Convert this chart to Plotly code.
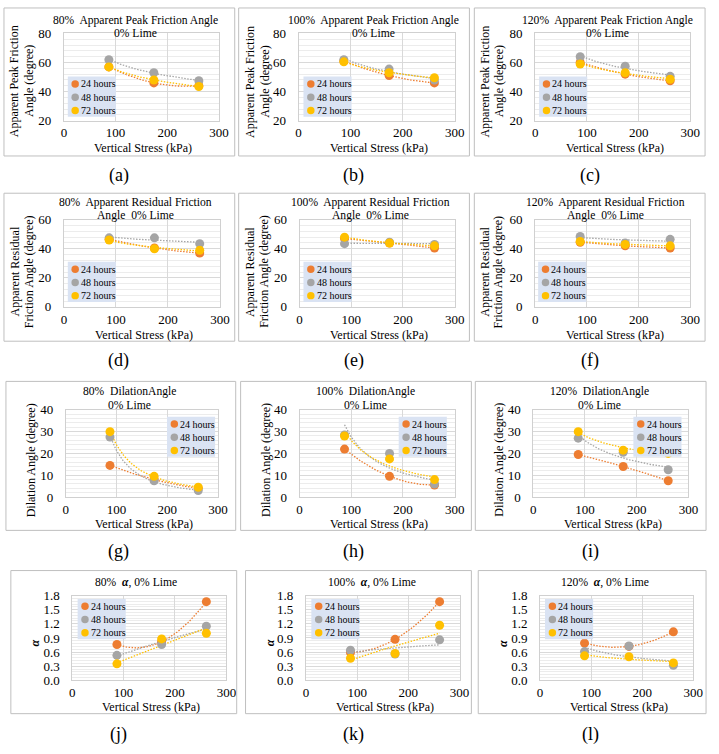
import numpy as np
import plotly.graph_objects as go

W, H = 719, 754
FONT = "Liberation Serif"

# ---------------- data ----------------
stress_kpa = [87, 174, 261]
series_names = ["24 hours", "48 hours", "72 hours"]
series_colors = ["#ED7D31", "#A5A5A5", "#FFC000"]
trend_kinds = ["poly2", "power", "power"]
x_ticks = [0, 100, 200, 300]

# each list: [24 h, 48 h, 72 h]
peak_80 = [[57, 46, 44], [62, 53, 47.5], [57, 48, 43.5]]
peak_100 = [[61, 51, 46], [62, 55.5, 48], [60.5, 53, 49.5]]
peak_120 = [[60, 52, 47.5], [64, 57.5, 50.5], [59, 53, 48.5]]
resid_80 = [[46.5, 40.5, 37], [47.5, 47.5, 43.5], [46, 40, 39]]
resid_100 = [[47, 44, 40.5], [43.5, 44.5, 43], [48, 44, 42]]
resid_120 = [[44.5, 42, 40.5], [48.5, 44, 46.5], [45, 43, 42]]
dil_80 = [[14.5, 8, 4], [27.5, 7.5, 3], [30, 9.5, 4.5]]
dil_100 = [[22, 9.5, 5.5], [28.5, 20, 6], [28, 17.5, 8]]
dil_120 = [[19.5, 14, 7.5], [27, 20.5, 12.5], [30, 21.5, 20]]
alpha_80 = [[0.76, 0.82, 1.67], [0.53, 0.76, 1.15], [0.35, 0.88, 1.0]]
alpha_100 = [[0.59, 0.87, 1.67], [0.64, 0.56, 0.86], [0.47, 0.57, 1.17]]
alpha_120 = [[0.79, 0.72, 1.03], [0.61, 0.73, 0.32], [0.52, 0.50, 0.37]]

A = "<b><i>α</i></b>"

# ---------------- layout geometry (pixels) ----------------
rows = [
    dict(ytop=27, ybot=116, by=(1, 152), ty=[14, 27.5], ytc=76, xty=144, capy=172, ly=71),
    dict(ytop=217, ybot=306, by=(190, 341), ty=[199, 212.7], ytc=270, xty=335, capy=361, ly=260),
    dict(ytop=411, ybot=500, by=(382, 534), ty=[392.7, 407], ytc=462, xty=527.7, capy=556, ly=418),
    dict(ytop=600.5, ybot=687, by=(575, 721), ty=[586.7], ytc=649, xty=714.5, capy=742.5, ly=604),
]

panels = [
    dict(row=0, data=peak_80, yr=(20, 80), dt=20, fmt="",
         title=["80%  Apparent Peak Friction Angle", "0% Lime"],
         ytitle=["Apparent Peak Friction", "Angle (degree)"], cap="(a)",
         px=(62, 220), bx=(1, 236), tcx=135, ytx=[12, 27], lx=66, capx=118),
    dict(row=0, data=peak_100, yr=(20, 80), dt=20, fmt="",
         title=["100%  Apparent Peak Friction Angle", "0% Lime"],
         ytitle=["Apparent Peak Friction", "Angle (degree)"], cap="(b)",
         px=(301, 460), bx=(240, 475), tcx=377, ytx=[252, 267], lx=306, capx=357),
    dict(row=0, data=peak_120, yr=(20, 80), dt=20, fmt="",
         title=["120%  Apparent Peak Friction Angle", "0% Lime"],
         ytitle=["Apparent Peak Friction", "Angle (degree)"], cap="(c)",
         px=(542, 700), bx=(480, 715), tcx=616, ytx=[491, 506], lx=546, capx=598),
    dict(row=1, data=resid_80, yr=(0, 60), dt=20, fmt="",
         title=["80%  Apparent Residual Friction", "Angle  0% Lime"],
         ytitle=["Apparent Residual", "Friction Angle (degree)"], cap="(d)",
         px=(62, 221), bx=(1, 236), tcx=135, ytx=[12, 26], lx=66, capx=118),
    dict(row=1, data=resid_100, yr=(0, 60), dt=20, fmt="",
         title=["100%  Apparent Residual Friction", "Angle  0% Lime"],
         ytitle=["Apparent Residual", "Friction Angle (degree)"], cap="(e)",
         px=(302, 460), bx=(240, 475), tcx=374, ytx=[251, 265], lx=306, capx=357),
    dict(row=1, data=resid_120, yr=(0, 60), dt=20, fmt="",
         title=["120%  Apparent Residual Friction", "Angle  0% Lime"],
         ytitle=["Apparent Residual", "Friction Angle (degree)"], cap="(f)",
         px=(542, 700), bx=(480, 715), tcx=614, ytx=[490, 504], lx=545, capx=598),
    dict(row=2, data=dil_80, yr=(0, 40), dt=10, fmt="",
         title=["80%  DilationAngle", "0% Lime"],
         ytitle=["Dilation Angle (degree)"], cap="(g)",
         px=(64, 219), bx=(3, 237), tcx=129, ytx=[28], lx=167, capx=118),
    dict(row=2, data=dil_100, yr=(0, 40), dt=10, fmt="",
         title=["100%  DilationAngle", "0% Lime"],
         ytitle=["Dilation Angle (degree)"], cap="(h)",
         px=(302, 460), bx=(242, 477), tcx=369.5, ytx=[268], lx=403, capx=357),
    dict(row=2, data=dil_120, yr=(0, 40), dt=10, fmt="",
         title=["120%  DilationAngle", "0% Lime"],
         ytitle=["Dilation Angle (degree)"], cap="(i)",
         px=(540, 698), bx=(481, 716), tcx=607, ytx=[505], lx=642, capx=598),
    dict(row=3, data=alpha_80, yr=(0, 1.8), dt=0.3, fmt=".1f",
         title=["80%  " + A + ", 0% Lime"],
         ytitle=[A], cap="(j)",
         px=(70.5, 227.5), bx=(8, 238), tcx=135, ytx=[33], lx=76, capx=118),
    dict(row=3, data=alpha_100, yr=(0, 1.8), dt=0.3, fmt=".1f",
         title=["100%  " + A + ", 0% Lime"],
         ytitle=[A], cap="(k)",
         px=(308.5, 465), bx=(247, 477), tcx=376, ytx=[272], lx=314, capx=357),
    dict(row=3, data=alpha_120, yr=(0, 1.8), dt=0.3, fmt=".1f",
         title=["120%  " + A + ", 0% Lime"],
         ytitle=[A], cap="(l)",
         px=(547, 703), bx=(484, 716), tcx=613.5, ytx=[509], lx=552, capx=598),
]

GRID = "#d9d9d9"
MINOR = "#ececec"
FRAME = "#d0d0d0"
BOX = "#bfbfbf"
LEG_BG = "#dae3f3"


def pxx(x):
    return x / W


def pyy(y):
    return 1 - y / H


def trend(xs, ys, kind, n=80):
    x = np.asarray(xs, float)
    y = np.asarray(ys, float)
    xx = np.linspace(x.min(), x.max(), n)
    if kind == "poly2":
        c = np.polyfit(x, y, 2)
        yy = np.polyval(c, xx)
    else:  # power
        b, a = np.polyfit(np.log(x), np.log(y), 1)
        yy = np.exp(a) * xx ** b
    return xx, yy


fig = go.Figure()
axes = {}
shapes = []
annos = []

for k, p in enumerate(panels):
    n = k + 1
    xa = "x" if n == 1 else f"x{n}"
    ya = "y" if n == 1 else f"y{n}"
    xkey = "xaxis" if n == 1 else f"xaxis{n}"
    ykey = "yaxis" if n == 1 else f"yaxis{n}"
    r = rows[p["row"]]
    x0, x1 = p["px"]

    axes[xkey] = dict(
        domain=[pxx(x0), pxx(x1)], range=[0, 300], tickvals=x_ticks,
        anchor=ya, showgrid=True, gridcolor=GRID, gridwidth=1,
        showline=True, linecolor=FRAME, linewidth=1, mirror=True,
        zeroline=False, ticks="", ticklabelstandoff=0,
        tickfont=dict(family=FONT, size=13, color="#000"), fixedrange=True,
    )
    axes[ykey] = dict(
        domain=[pyy(r["ybot"]), pyy(r["ytop"])], range=list(p["yr"]),
        tick0=p["yr"][0], dtick=p["dt"], tickformat=p["fmt"],
        anchor=xa, showgrid=True, gridcolor=GRID, gridwidth=1,
        showline=True, linecolor=FRAME, linewidth=1, mirror=True,
        zeroline=False, ticks="", ticklabelstandoff=9,
        minor=dict(dtick=p["dt"] / 5, tick0=p["yr"][0], showgrid=True,
                   gridcolor=MINOR, gridwidth=1, ticks=""),
        tickfont=dict(family=FONT, size=13, color="#000"), fixedrange=True,
    )

    for s in range(3):
        tx, ty = trend(stress_kpa, p["data"][s], trend_kinds[s])
        fig.add_trace(go.Scatter(
            x=tx, y=ty, mode="lines", xaxis=xa, yaxis=ya,
            line=dict(color=series_colors[s], width=1.3, dash="1.5px,1.5px"),
            showlegend=False, hoverinfo="skip"))
    for s in range(3):
        fig.add_trace(go.Scatter(
            x=stress_kpa, y=p["data"][s], mode="markers", xaxis=xa, yaxis=ya,
            name=series_names[s],
            marker=dict(size=9, color=series_colors[s]),
            showlegend=False))

    # outer panel border
    bx0, bx1 = p["bx"]
    by0, by1 = r["by"]
    shapes.append(dict(type="rect", xref="paper", yref="paper",
                       x0=pxx(bx0), x1=pxx(bx1), y0=pyy(by1), y1=pyy(by0),
                       line=dict(color=BOX, width=1), layer="above"))

    # legend box
    lx, ly = p["lx"], r["ly"]
    shapes.append(dict(type="rect", xref="paper", yref="paper",
                       x0=pxx(lx), x1=pxx(lx + 49), y0=pyy(ly + 41), y1=pyy(ly),
                       fillcolor=LEG_BG, line=dict(width=0), layer="above"))
    for s in range(3):
        cy = ly + 7.5 + 13.5 * s
        cx = lx + 7.5
        rad = 3.8
        shapes.append(dict(type="circle", xref="paper", yref="paper",
                           x0=pxx(cx - rad), x1=pxx(cx + rad),
                           y0=pyy(cy + rad), y1=pyy(cy - rad),
                           fillcolor=series_colors[s], line=dict(width=0),
                           layer="above"))
        annos.append(dict(xref="paper", yref="paper", x=pxx(lx + 11.5), y=pyy(cy),
                          xanchor="left", yanchor="middle", showarrow=False,
                          text=series_names[s],
                          font=dict(family=FONT, size=10, color="#000")))

    # chart title lines
    for t, ty_ in zip(p["title"], r["ty"]):
        annos.append(dict(xref="paper", yref="paper", x=pxx(p["tcx"]), y=pyy(ty_),
                          xanchor="center", yanchor="middle", showarrow=False,
                          text=t, font=dict(family=FONT, size=11.6, color="#000")))

    # y-axis title lines (rotated)
    for t, tx_ in zip(p["ytitle"], p["ytx"]):
        annos.append(dict(xref="paper", yref="paper", x=pxx(tx_), y=pyy(r["ytc"]),
                          xanchor="center", yanchor="middle", showarrow=False,
                          textangle=-90, text=t,
                          font=dict(family=FONT, size=12, color="#000")))

    # x-axis title
    annos.append(dict(xref="paper", yref="paper", x=pxx((x0 + x1) / 2 + 2),
                      y=pyy(r["xty"]), xanchor="center", yanchor="middle",
                      showarrow=False, text="Vertical Stress (kPa)",
                      font=dict(family=FONT, size=12, color="#000")))

    # caption
    annos.append(dict(xref="paper", yref="paper", x=pxx(p["capx"]), y=pyy(r["capy"]),
                      xanchor="center", yanchor="middle", showarrow=False,
                      text=p["cap"], font=dict(family=FONT, size=18, color="#000")))

fig.update_layout(
    width=W, height=H, margin=dict(l=0, r=0, t=0, b=0),
    paper_bgcolor="white", plot_bgcolor="white",
    showlegend=False, shapes=shapes, annotations=annos,
    font=dict(family=FONT, color="#000"),
    **axes,
)

PAGE_FIX = (
    "document.documentElement.style.margin='0px';"
    "document.documentElement.style.padding='0px';"
    "document.documentElement.style.overflow='hidden';"
    "document.body.style.margin='0px';"
    "document.body.style.padding='0px';"
    "document.body.style.overflow='hidden';"
    "var gd=document.getElementById('{plot_id}');"
    "gd.style.position='fixed';gd.style.left='0px';gd.style.top='0px';"
)

fig.write_html(
    "out.html",
    config={"displayModeBar": False},
    post_script=PAGE_FIX,
)
